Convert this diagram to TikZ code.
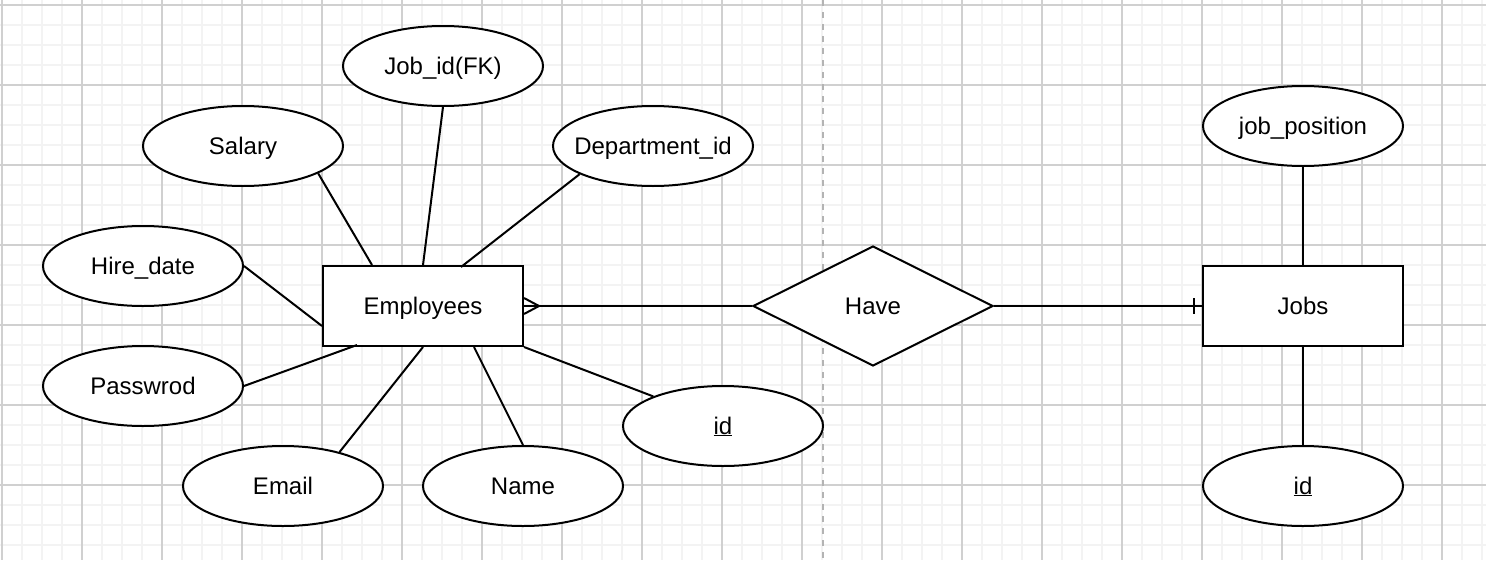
\documentclass[tikz,border=0pt]{standalone}
\usepackage{fontspec}
\setmainfont{Liberation Sans}
\usetikzlibrary{shapes.geometric}
\definecolor{gridminor}{HTML}{F3F3F3}
\definecolor{gridmajor}{HTML}{D0D0D0}
\definecolor{dashgray}{HTML}{B3B3B3}
\newcommand\ztext[1]{\makebox[0pt]{#1}}
\tikzset{
  txt/.style={text height=16pt, text depth=0pt},
  attr/.style={ellipse, draw, line width=2pt, minimum width=200pt, minimum height=80pt, inner sep=0pt, fill=white, txt},
  entity/.style={rectangle, draw, line width=2pt, minimum width=200pt, minimum height=80pt, inner sep=0pt, fill=white, txt},
  rel/.style={diamond, draw, line width=2pt, minimum width=240pt, minimum height=120pt, inner sep=0pt, fill=white, txt},
  conn/.style={line width=2pt, draw=black},
}
\begin{document}
\begin{tikzpicture}[x=1pt,y=-1pt,font=\fontsize{24}{28}\selectfont]
\useasboundingbox (0,0) rectangle (1486,560);
\fill[white] (0,0) rectangle (1486,560);
% grid
\foreach \k in {0,...,74} {\draw[gridminor, line width=1.5pt] (2+20*\k,0) -- (2+20*\k,560);}
\foreach \k in {0,...,27} {\draw[gridminor, line width=1.5pt] (0,5+20*\k) -- (1486,5+20*\k);}
\foreach \k in {0,...,18} {\draw[gridmajor, line width=1.2pt] (2+80*\k,0) -- (2+80*\k,560);}
\foreach \k in {0,...,6} {\draw[gridmajor, line width=1.2pt] (0,5+80*\k) -- (1486,5+80*\k);}
% dashed separator
\draw[dashgray, line width=2pt, dash pattern=on 6pt off 6pt] (822.5,0) -- (822.5,560);

% nodes
\node[entity] (emp) at (423,306) {Employees};
\node[entity] (jobs) at (1303,306) {Jobs};
\node[rel] (have) at (873,306) {Have};
\node[attr] (job) at (443,66) {\ztext{Job\_id(FK)}};
\node[attr] (sal) at (243,146) {\ztext{Salary}};
\node[attr] (dep) at (653,146) {\ztext{Department\_id}};
\node[attr] (hire) at (143,266) {\ztext{Hire\_date}};
\node[attr] (pwd) at (143,386) {\ztext{Passwrod}};
\node[attr] (mail) at (283,486) {\ztext{Email}};
\node[attr] (name) at (523,486) {\ztext{Name}};
\node[attr] (eid) at (723,426) {\ztext{\underline{id}}};
\node[attr] (jpos) at (1303,126) {\ztext{job\_position}};
\node[attr] (jid) at (1303,486) {\ztext{\underline{id}}};

% connectors
\draw[conn] (sal.-20.6) -- ([xshift=50pt]emp.north west);
\draw[conn] (job.south) -- (emp.north);
\draw[conn] (dep.201.1) -- ([xshift=38pt,yshift=-2pt]emp.north);
\draw[conn] (hire.east) -- ([yshift=-20pt]emp.west);
\draw[conn] (pwd.east) -- ([xshift=35pt,yshift=2pt]emp.south west);
\draw[conn] (mail.31.4) -- (emp.south);
\draw[conn] (name.north) -- ([xshift=-50pt]emp.south east);
\draw[conn] (eid.157.8) -- (emp.south east);
\draw[conn] (emp.east) -- (have.west);
\draw[conn] ([yshift=8pt]emp.east) -- ([xshift=15pt]emp.east) -- ([yshift=-8pt]emp.east);
\draw[conn] (have.east) -- (jobs.west);
\draw[conn] ([xshift=-8pt,yshift=8pt]jobs.west) -- ([xshift=-8pt,yshift=-8pt]jobs.west);
\draw[conn] (jpos.south) -- (jobs.north);
\draw[conn] (jobs.south) -- (jid.north);
\end{tikzpicture}
\end{document}
